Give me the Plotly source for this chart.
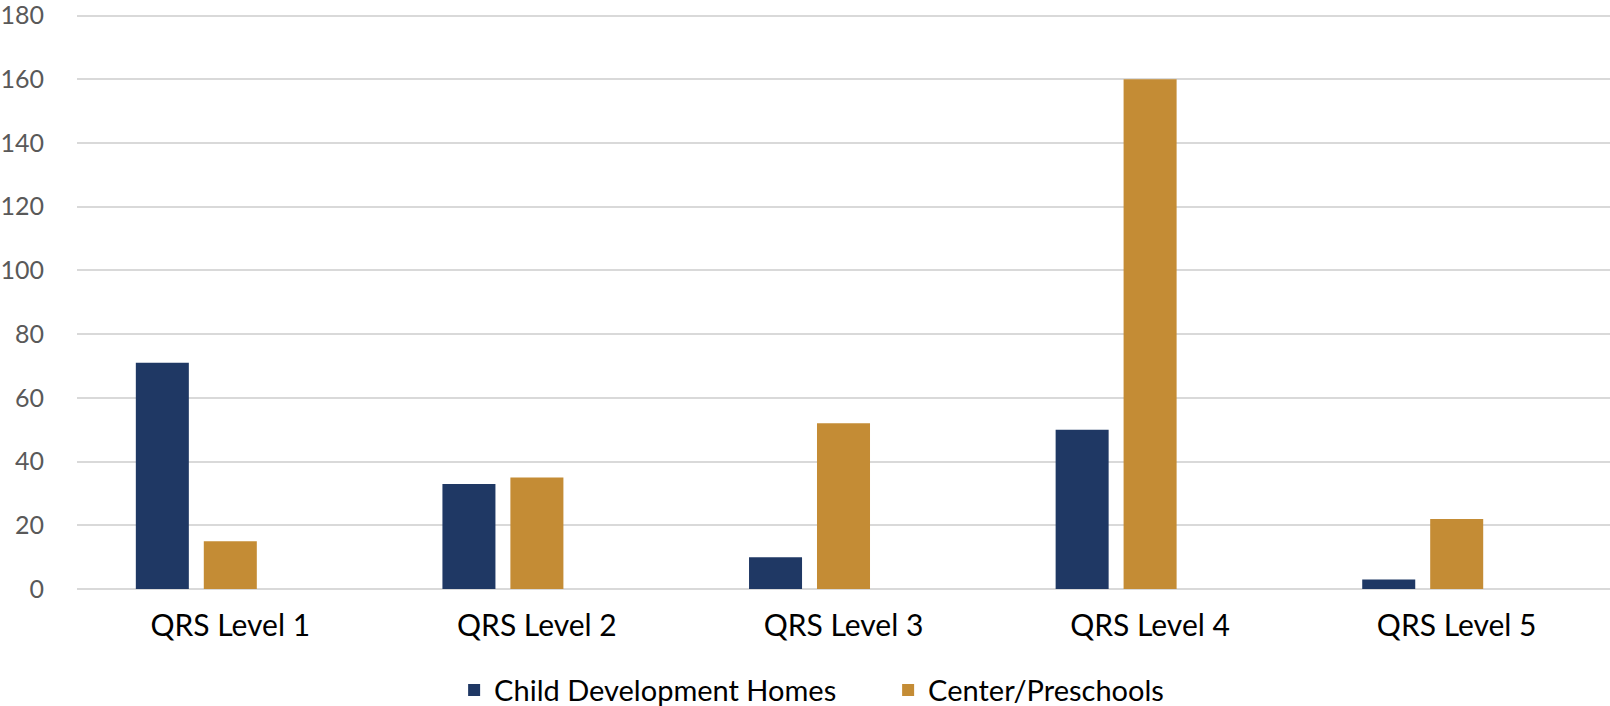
import plotly.graph_objects as go

categories = ["QRS Level 1", "QRS Level 2", "QRS Level 3", "QRS Level 4", "QRS Level 5"]
homes = [71, 33, 10, 50, 3]
centers = [15, 35, 52, 160, 22]
empty_series = [None, None, None, None, None]
y_ticks = [0, 20, 40, 60, 80, 100, 120, 140, 160, 180]
y_tick_labels = ["0", "20", "40", "60", "80", "100", "120", "140", "160", "180"]

NAVY = "#1F3864"
GOLD = "#C48C35"
FONT = "Lato, 'Open Sans', sans-serif"

fig = go.Figure()
fig.add_trace(go.Bar(x=categories, y=homes, name="Child Development Homes",
                     marker=dict(color=NAVY, line=dict(width=0))))
fig.add_trace(go.Bar(x=categories, y=centers, name="Center/Preschools",
                     marker=dict(color=GOLD, line=dict(width=0))))
fig.add_trace(go.Bar(x=categories, y=empty_series, name="", showlegend=False,
                     hoverinfo="skip", marker=dict(color="rgba(0,0,0,0)")))

fig.update_layout(
    width=1610, height=706,
    paper_bgcolor="white", plot_bgcolor="white",
    margin=dict(l=77, r=0, t=14, b=117, autoexpand=False),
    barmode="group", bargap=0.335, bargroupgap=0.22,
    font=dict(family=FONT, color="#000000"),
    showlegend=True,
    legend=dict(orientation="h", x=0.246, xanchor="left", y=-0.1757, yanchor="middle",
                font=dict(size=29, color="#000000", family=FONT),
                entrywidth=389, entrywidthmode="pixels",
                itemclick=False, itemdoubleclick=False, traceorder="normal"),
)
fig.update_xaxes(
    showgrid=False, showline=False, zeroline=False,
    tickfont=dict(size=30, color="#000000", family=FONT),
    ticks="", ticklabelstandoff=16,
)
fig.update_yaxes(
    range=[0, 180.5], tickvals=y_ticks, ticktext=y_tick_labels,
    showgrid=True, gridcolor="#D9D9D9", gridwidth=2,
    zeroline=True, zerolinecolor="#D9D9D9", zerolinewidth=2,
    showline=False, ticks="",
    tickfont=dict(size=25, color="#595959", family=FONT),
    ticklabelstandoff=32, ticklabeloverflow="allow",
)

fig.write_html("out.html", config={"displayModeBar": False},
               post_script="document.body.style.margin='0';document.body.style.overflow='hidden';")
